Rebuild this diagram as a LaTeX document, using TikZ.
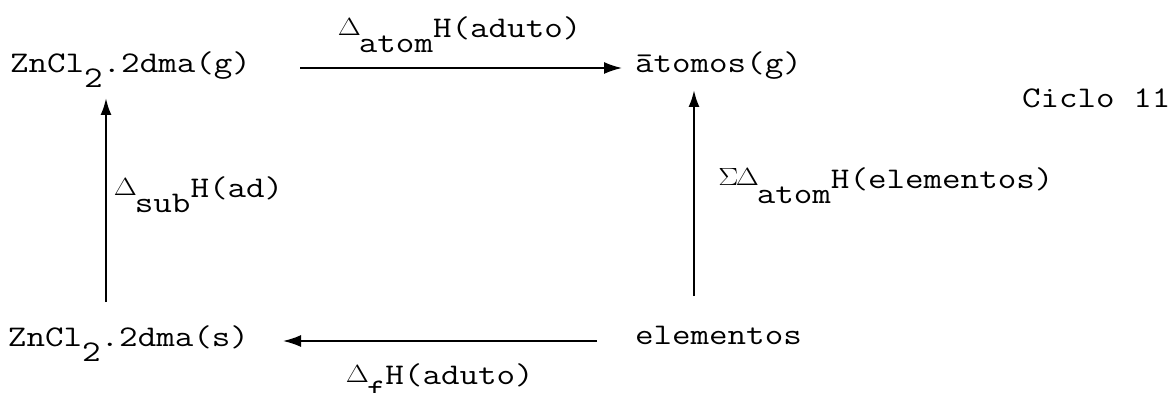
\documentclass[tikz,border=0pt]{standalone}
\usepackage{fontspec}
\usepackage{graphicx}
\usetikzlibrary{arrows.meta}
\newcommand\mydn[1]{\raisebox{-15pt}{#1}}
\newcommand\mysm[1]{\makebox[0.525em]{\raisebox{2pt}{\fontsize{23}{23}\selectfont$#1$}}}
\newcommand\tw[1]{\scalebox{1.2}[1]{\ttfamily #1}}
\begin{document}
\begin{tikzpicture}[x=1pt,y=-1pt,
  txt/.style={anchor=base west, inner sep=0pt, outer sep=0pt, font=\fontsize{30}{30}\selectfont},
  arr/.style={line width=1.7pt, -{Latex[length=18pt,width=12pt]}},
  varr/.style={line width=2.3pt, -{Latex[length=17pt,width=11pt]}}
]
\useasboundingbox (0,0) rectangle (1170,393);

% species
\node[txt] (gas)   at (10,73)  {\tw{ZnCl\mydn{2}.2dma(g)}};
\node[txt] (atoms) at (635,73) {\tw{ātomos(g)}};
\node[txt] (solid) at (8,346)  {\tw{ZnCl\mydn{2}.2dma(s)}};
\node[txt] (elem)  at (635,344) {\tw{elementos}};
\node[txt] (ciclo) at (1022,108) {\tw{Ciclo 11}};

% labels
\node[txt] (lTop)   at (340,38)  {\tw{\mysm{\Delta}\mydn{atom}H(aduto)}};
\node[txt] (lLeft)  at (116,197) {\tw{\mysm{\Delta}\mydn{sub}H(ad)}};
\node[txt] (lRight) at (719,188) {\tw{\mysm{\Sigma}\mysm{\Delta}\mydn{atom}H(elementos)}};
\node[txt] (lBot)   at (348,384) {\tw{\mysm{\Delta}\mydn{f}H(aduto)}};

% arrow end points
\coordinate (t1) at (300,68);
\coordinate (t2) at (622,68);
\coordinate (l1) at (106,302);
\coordinate (l2) at (106,98);
\coordinate (r1) at (694,296);
\coordinate (r2) at (694,90);
\coordinate (b1) at (597,341);
\coordinate (b2) at (283,341);

\draw[arr]  (t1) -- (t2);
\draw[varr] (l1) -- (l2);
\draw[varr] (r1) -- (r2);
\draw[arr]  (b1) -- (b2);
\end{tikzpicture}
\end{document}
